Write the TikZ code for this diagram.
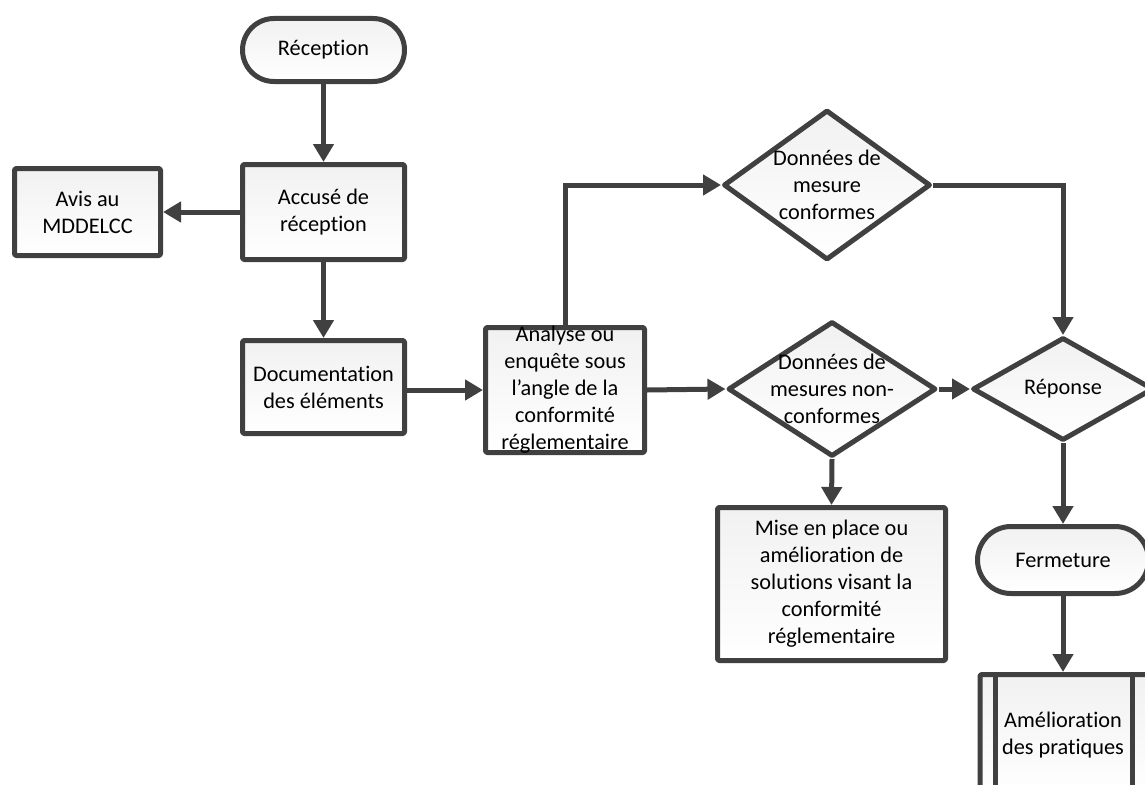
\documentclass[tikz,border=0pt]{standalone}
\usepackage{fontspec}
\setmainfont{Carlito}[Ligatures={NoCommon,NoContextual}]
\usetikzlibrary{arrows.meta,shapes.geometric,shapes.misc,shadows}
\definecolor{lc}{HTML}{404040}
\begin{document}
\begin{tikzpicture}[x=1pt,y=-1pt,
  every node/.style={font=\fontsize{22.3}{27}\selectfont, text=black},
  base/.style={draw=lc, line width=5pt, top color=gray!11, bottom color=white,
    inner sep=0pt, align=center, line join=round,
    drop shadow={opacity=0.15, shadow xshift=2pt, shadow yshift=-2pt}},
  box/.style 2 args={base, rectangle, rounded corners=1.5pt, minimum width=#1pt, minimum height=#2pt},
  term/.style 2 args={base, rounded rectangle, minimum width=#1pt, minimum height=#2pt},
  dec/.style 2 args={base, diamond, minimum width=#1pt, minimum height=#2pt},
  lbl/.style={align=center, inner sep=0pt},
  conn/.style={draw=lc, line width=5pt, -{Triangle[length=18pt,width=20pt]}},
  plain/.style={draw=lc, line width=5pt}
]
\useasboundingbox (0,0) rectangle (1145,784);

\node[term={162}{63}] (rec) at (323.5,50) {Réception};
\node[box={162}{95}] (acc) at (323.5,212) {Accusé de\\réception};
\node[box={146}{87}] (avis) at (87.5,212) {Avis au\\MDDELCC};
\node[box={162}{93}] (doc) at (323.5,387) {Documentation\\des éléments};
\node[box={159}{125}, label={[lbl]center:{Analyse ou\\enquête sous\\l’angle de la\\conformité\\réglementaire}}] (ana) at (565,390) {};
\node[dec={207}{150}, label={[lbl]center:{Données de\\mesure\\conformes}}] (d1) at (827,185) {};
\node[dec={208}{135}, label={[lbl]center:{Données de\\mesures non-\\conformes}}] (d2) at (832,389) {};
\node[dec={181}{103}] (rep) at (1063,389) {Réponse};
\node[box={228}{153}] (mise) at (831.5,584) {Mise en place ou\\amélioration de\\solutions visant la\\conformité\\réglementaire};
\node[term={171}{67}] (ferm) at (1063,560) {Fermeture};
\node[box={174}{121}] (amel) at (1067,735) {};
\node[lbl] at (1063,735) {Amélioration\\des pratiques};
\draw[plain] ([xshift=17.5pt]amel.north west) -- ([xshift=17.5pt]amel.south west);
\draw[plain] ([xshift=-24.5pt]amel.north east) -- ([xshift=-24.5pt]amel.south east);

\draw[conn] (rec) -- (acc);
\draw[conn] (acc) -- (avis);
\draw[conn] (acc) -- (doc);
\draw[conn] (doc.east |- ana.west) -- (ana.west);
\draw[conn] (ana.north) |- (d1.west);
\draw[conn] (ana.east) -- (d2.west);
\draw[conn] (d1.east) -| (rep.north);
\draw[conn] (d2.east) -- (rep.west);
\draw[conn] (d2.south) -- (mise.north);
\draw[conn] (rep.south) -- (ferm.north);
\draw[conn] (ferm.south) -- (amel.north -| ferm.south);
\end{tikzpicture}
\end{document}
